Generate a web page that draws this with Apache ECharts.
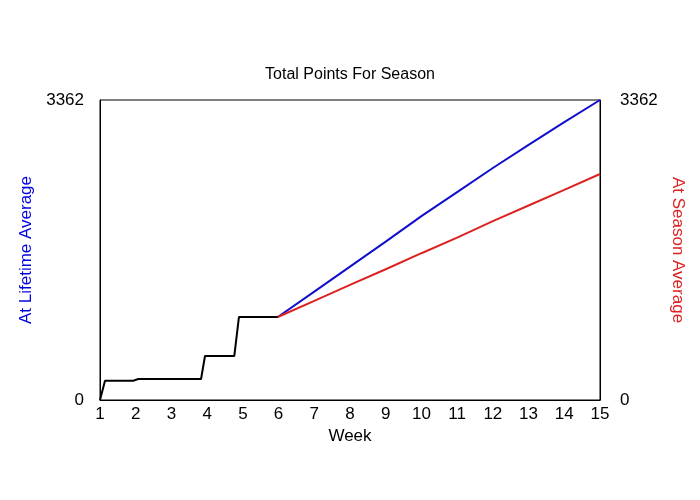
<!DOCTYPE html><html><head><meta charset="utf-8"><script src="https://cdn.jsdelivr.net/npm/echarts@6/dist/echarts.min.js"></script></head><body style="margin:0"><div id="c" style="width:700px;height:500px"></div><script>
var actualWeeks=[1,1.14,1.93,2.07,3.83,3.94,4.76,4.89,5.98];
var actualPts=[0,216,216,235,235,493,493,930,930];
var projWeeks=[5.98,7,8,9,10,11,12,13,14,15];
var lifetimePts=[930,1215,1495,1775,2060,2330,2600,2860,3115,3362];
var seasonPts=[930,1110,1290,1465,1645,1820,2005,2180,2355,2533];
var yMax=3362;
function pairs(x,y){return x.map(function(v,i){return [v,y[i]];});}
var ch=echarts.init(document.getElementById('c'));
var ff='Liberation Sans, Arial, sans-serif';
var fmt=function(v){return String(v);};
ch.setOption({
 animation:false,
 title:{text:'Total Points For Season',left:'center',top:62,textStyle:{fontFamily:ff,fontSize:16,fontWeight:'normal',color:'#000'}},
 grid:{left:100,right:100,top:100,bottom:100,containLabel:false,outerBoundsMode:'none',show:true,borderColor:'#000',borderWidth:1},
 xAxis:{type:'value',min:1,max:15,interval:1,name:'Week',nameLocation:'middle',nameGap:24,nameTextStyle:{fontFamily:ff,fontSize:17,color:'#000'},
  axisLine:{lineStyle:{color:'#000'}},axisTick:{show:false},splitLine:{show:false},axisLabel:{fontFamily:ff,fontSize:17,color:'#000',margin:6}},
 yAxis:[{type:'value',min:0,max:yMax,interval:yMax,position:'left',name:'At Lifetime Average',nameLocation:'middle',nameGap:32,nameTextStyle:{fontFamily:ff,fontSize:17,color:'#0000dd'},
  axisLine:{show:true,lineStyle:{color:'#000'}},axisTick:{show:false},splitLine:{show:false},axisLabel:{fontFamily:ff,fontSize:17,color:'#000',margin:16,formatter:fmt}},
  {type:'value',min:0,max:yMax,interval:yMax,position:'right',name:'At Season Average',nameLocation:'middle',nameGap:38,nameRotate:-90,nameTextStyle:{fontFamily:ff,fontSize:17,color:'#dd2222'},
  axisLine:{show:true,lineStyle:{color:'#000'}},axisTick:{show:false},splitLine:{show:false},axisLabel:{fontFamily:ff,fontSize:17,color:'#000',margin:20,formatter:fmt}}],
 series:[
  {type:'line',data:pairs(projWeeks,lifetimePts),symbol:'none',lineStyle:{color:'#1010cc',width:2}},
  {type:'line',data:pairs(projWeeks,seasonPts),symbol:'none',lineStyle:{color:'#dd2222',width:2}},
  {type:'line',data:pairs(actualWeeks,actualPts),symbol:'none',lineStyle:{color:'#000',width:2}}
 ]
});
</script></body></html>
